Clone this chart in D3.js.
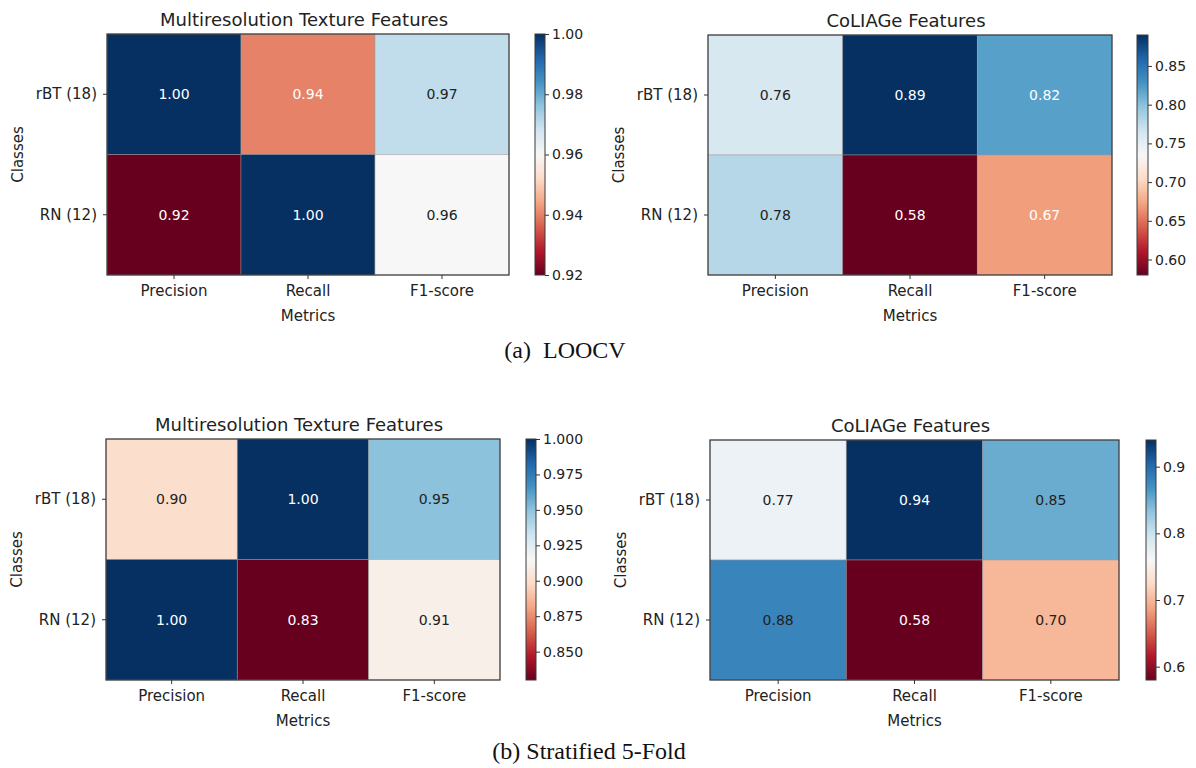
<!DOCTYPE html>
<html>
<head>
<meta charset="utf-8">
<script src="https://cdn.jsdelivr.net/npm/d3@7"></script>
<style>
  html, body { margin: 0; padding: 0; background: #fff; }
  svg { display: block; }
</style>
</head>
<body>
<svg id="chart" width="1196" height="768"></svg>
<script>
// ---- data ----
const classes = ["rBT (18)", "RN (12)"];
const metrics = ["Precision", "Recall", "F1-score"];

const loocvTexture  = [[1.00, 0.94, 0.97], [0.92, 1.00, 0.96]];
const loocvColiage  = [[0.76, 0.89, 0.82], [0.78, 0.58, 0.67]];
const stratTexture  = [[0.90, 1.00, 0.95], [1.00, 0.83, 0.91]];
const stratColiage  = [[0.77, 0.94, 0.85], [0.88, 0.58, 0.70]];

const ticksLoocvTexture = [0.92, 0.94, 0.96, 0.98, 1.00];
const ticksLoocvColiage = [0.60, 0.65, 0.70, 0.75, 0.80, 0.85];
const ticksStratTexture = [0.850, 0.875, 0.900, 0.925, 0.950, 0.975, 1.000];
const ticksStratColiage = [0.6, 0.7, 0.8, 0.9];

// annotation text colour per cell (w = white, k = black)
const txtLoocvTexture = [["w", "w", "k"], ["w", "w", "k"]];
const txtLoocvColiage = [["k", "w", "w"], ["k", "w", "w"]];
const txtStratTexture = [["k", "w", "k"], ["w", "w", "k"]];
const txtStratColiage = [["k", "w", "k"], ["k", "w", "k"]];

const titles = ["Multiresolution Texture Features", "CoLIAGe Features"];
const captions = ["(a)  LOOCV", "(b) Stratified 5-Fold"];

// matplotlib RdBu (linear through the 11 ColorBrewer colours)
const rdbuStops = ["#67001f", "#b2182b", "#d6604d", "#f4a582", "#fddbc7", "#f7f7f7",
                   "#d1e5f0", "#92c5de", "#4393c3", "#2166ac", "#053061"];
const rdbu = d3.scaleLinear()
  .domain(d3.range(rdbuStops.length).map(i => i / (rdbuStops.length - 1)))
  .range(rdbuStops).interpolate(d3.interpolateRgb).clamp(true);

// ---- drawing ----
const svg = d3.select("#chart");
const FONT = "'DejaVu Sans', sans-serif";
const INK = "#222";

const panels = [
  { data: loocvTexture, ticks: ticksLoocvTexture, fmt: ".2f", txt: txtLoocvTexture, title: titles[0],
    x0: 107, x1: 509, y0: 34, y1: 275, cb0: 535, cb1: 545 },
  { data: loocvColiage, ticks: ticksLoocvColiage, fmt: ".2f", txt: txtLoocvColiage, title: titles[1],
    x0: 708, x1: 1112, y0: 35, y1: 275, cb0: 1137, cb1: 1148 },
  { data: stratTexture, ticks: ticksStratTexture, fmt: ".3f", txt: txtStratTexture, title: titles[0],
    x0: 106, x1: 500, y0: 439, y1: 680, cb0: 526, cb1: 536 },
  { data: stratColiage, ticks: ticksStratColiage, fmt: ".1f", txt: txtStratColiage, title: titles[1],
    x0: 710, x1: 1119, y0: 440, y1: 680, cb0: 1146, cb1: 1156 }
];

const defs = svg.append("defs");

panels.forEach((p, pi) => {
  const flat = p.data.flat();
  const vmin = d3.min(flat), vmax = d3.max(flat);
  const norm = d3.scaleLinear().domain([vmin, vmax]).range([0, 1]);
  const color = v => rdbu(norm(v));

  const x = d3.scaleBand().domain(metrics).range([p.x0, p.x1]);
  const y = d3.scaleBand().domain(classes).range([p.y0, p.y1]);

  const g = svg.append("g");

  const cells = [];
  p.data.forEach((row, ri) => row.forEach((v, ci) => cells.push({ r: classes[ri], c: metrics[ci], v, t: p.txt[ri][ci] })));

  g.selectAll("rect.cell").data(cells).join("rect")
    .attr("class", "cell")
    .attr("x", d => x(d.c)).attr("y", d => y(d.r))
    .attr("width", x.bandwidth()).attr("height", y.bandwidth())
    .attr("fill", d => color(d.v))
    .attr("stroke", "#9a9a9a").attr("stroke-opacity", 0.6).attr("stroke-width", 0.8);

  g.selectAll("text.val").data(cells).join("text")
    .attr("class", "val")
    .attr("x", d => x(d.c) + x.bandwidth() / 2)
    .attr("y", d => y(d.r) + y.bandwidth() / 2)
    .attr("dy", "0.36em")
    .attr("text-anchor", "middle")
    .attr("font-family", FONT).attr("font-size", 14)
    .attr("fill", d => d.t === "w" ? "#fff" : INK)
    .text(d => d3.format(".2f")(d.v));

  g.append("rect")
    .attr("x", p.x0).attr("y", p.y0)
    .attr("width", p.x1 - p.x0).attr("height", p.y1 - p.y0)
    .attr("fill", "none").attr("stroke", "#3a3a3a").attr("stroke-width", 1.2);

  const xAxis = g.append("g").attr("transform", `translate(0,${p.y1})`)
    .call(d3.axisBottom(x).tickSize(4).tickPadding(6));
  xAxis.select(".domain").remove();
  xAxis.selectAll("line").attr("stroke", "#333");
  xAxis.selectAll("text").attr("font-family", FONT).attr("font-size", 15).attr("fill", INK);

  const yAxis = g.append("g").attr("transform", `translate(${p.x0},0)`)
    .call(d3.axisLeft(y).tickSize(4).tickPadding(6));
  yAxis.select(".domain").remove();
  yAxis.selectAll("line").attr("stroke", "#333");
  yAxis.selectAll("text").attr("font-family", FONT).attr("font-size", 15).attr("fill", INK);

  g.append("text")
    .attr("x", (p.x0 + p.x1) / 2).attr("y", p.y1 + 46)
    .attr("text-anchor", "middle")
    .attr("font-family", FONT).attr("font-size", 15).attr("fill", INK)
    .text("Metrics");
  g.append("text")
    .attr("transform", `translate(${p.x0 - 84},${(p.y0 + p.y1) / 2}) rotate(-90)`)
    .attr("text-anchor", "middle")
    .attr("font-family", FONT).attr("font-size", 15).attr("fill", INK)
    .text("Classes");

  g.append("text")
    .attr("x", (p.x0 + p.x1) / 2 - 4).attr("y", p.y0 - 8)
    .attr("text-anchor", "middle")
    .attr("font-family", FONT).attr("font-size", 18).attr("fill", INK)
    .text(p.title);

  // colorbar
  const gid = "grad" + pi;
  const grad = defs.append("linearGradient").attr("id", gid)
    .attr("x1", "0").attr("y1", "1").attr("x2", "0").attr("y2", "0");
  rdbuStops.forEach((c, i) => {
    grad.append("stop").attr("offset", i / (rdbuStops.length - 1)).attr("stop-color", c);
  });
  g.append("rect")
    .attr("x", p.cb0).attr("y", p.y0)
    .attr("width", p.cb1 - p.cb0).attr("height", p.y1 - p.y0)
    .attr("fill", `url(#${gid})`)
    .attr("stroke", "#3a3a3a").attr("stroke-width", 1);

  const cy = d3.scaleLinear().domain([vmin, vmax]).range([p.y1, p.y0]);
  const cAxis = g.append("g").attr("transform", `translate(${p.cb1},0)`)
    .call(d3.axisRight(cy).tickValues(p.ticks).tickFormat(d3.format(p.fmt)).tickSize(4).tickPadding(3));
  cAxis.select(".domain").remove();
  cAxis.selectAll("line").attr("stroke", "#333");
  cAxis.selectAll("text").attr("font-family", FONT).attr("font-size", 14).attr("fill", INK);
});

// captions
svg.append("text")
  .attr("x", 565).attr("y", 358)
  .attr("text-anchor", "middle")
  .attr("font-family", "'Liberation Serif', 'Times New Roman', serif")
  .attr("font-size", 24).attr("fill", "#111")
  .style("white-space", "pre")
  .text(captions[0]);
svg.append("text")
  .attr("x", 589).attr("y", 759)
  .attr("text-anchor", "middle")
  .attr("font-family", "'Liberation Serif', 'Times New Roman', serif")
  .attr("font-size", 24).attr("fill", "#111")
  .text(captions[1]);
</script>
</body>
</html>
